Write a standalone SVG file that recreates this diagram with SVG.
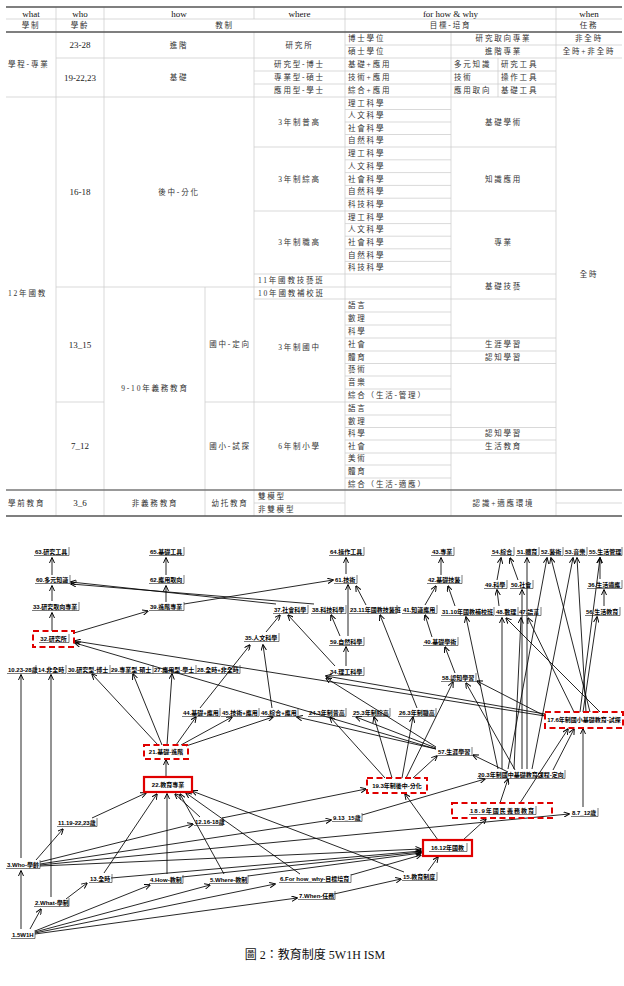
<svg xmlns="http://www.w3.org/2000/svg" width="624" height="986" viewBox="0 0 624 986">
<style>
.t{font-family:'Liberation Serif','Noto Sans CJK TC',serif;font-size:7.5px;fill:#333;dominant-baseline:central;letter-spacing:1.8px}
.h{font-family:'Liberation Serif',serif;font-size:9px;fill:#111;dominant-baseline:central;text-anchor:middle}
.n{font-family:'Liberation Serif','Noto Sans CJK TC',serif;font-size:9px;fill:#222;dominant-baseline:central;text-anchor:middle}
.m{text-anchor:middle}
.g{fill:none;stroke:#cfcfcf;stroke-width:0.8}
.k{fill:none;stroke:#555;stroke-width:1.6}
.km{fill:none;stroke:#777;stroke-width:1.6}
.nt{font-family:'Liberation Sans','Noto Sans CJK TC',sans-serif;font-size:6px;font-weight:bold;fill:#000;dominant-baseline:central}
.nb{fill:none;stroke:#222;stroke-width:0.6}
.rs{fill:none;stroke:#e00000;stroke-width:2.2}
.rd{fill:none;stroke:#e00000;stroke-width:2;stroke-dasharray:6 3.5}
#connectors line{stroke:#000;stroke-width:0.85;marker-end:url(#ah)}
.cap{font-family:'Liberation Serif','Noto Sans CJK TC',serif;font-size:12px;fill:#111;text-anchor:middle}
</style>
<defs>
<marker id="ah" viewBox="0 0 10 10" refX="9" refY="5" markerWidth="6" markerHeight="6" orient="auto" markerUnits="userSpaceOnUse">
<path d="M0,0.5 L10,5 L0,9.5" fill="none" stroke="#000" stroke-width="1.6"/>
</marker>
</defs>
<rect width="624" height="986" fill="#fff"/>

<g id="table">
<path class="g" d="M56,7V19M104,7V19M254,7V19M345,7V19M556,7V19M56,19V32M104,19V32M345,19V32M556,19V32M56,32V516M104,32V516M254,32V516M345,32V516M451,32V516M556,32V516M498,58V97M205,287V516"/>
<path class="g" d="M6,19H622M345,45H622M56,58H622M254,71H556M254,84H556M6,97H556M345,109.5H451M345,122H451M345,134.5H451M254,147H556M345,159.8H451M345,172.6H451M345,185.4H451M345,198.2H451M254,211H556M345,223.6H451M345,236.2H451M345,248.8H451M345,261.4H451M254,274H556M56,287H451M254,299H556M345,312H451M345,325H451M345,338H556M345,351H556M345,363.5H556M345,376H451M345,389H451M56,402H104M205,402H556M345,415H451M345,427.5H556M345,440H556M345,453H556M345,465H451M345,478H451M254,503H345M556,503H622"/>
<path class="k" d="M6,7H622M6,32H622M6,516H622"/>
<path class="km" d="M6,490H622"/>
<text class="h" x="31" y="13.5">what</text>
<text class="h" x="80" y="13.5">who</text>
<text class="h" x="179" y="13.5">how</text>
<text class="h" x="299.5" y="13.5">where</text>
<text class="h" x="450.5" y="13.5">for how &amp; why</text>
<text class="h" x="589" y="13.5">when</text>
<text class="t m" x="31" y="25.5">學制</text>
<text class="t m" x="80" y="25.5">學齡</text>
<text class="t m" x="224.5" y="25.5">教制</text>
<text class="t m" x="450.5" y="25.5">目標-培育</text>
<text class="t m" x="589" y="25.5">任務</text>
<text class="t" x="8" y="64.5">學程-專業</text>
<text class="n" x="80" y="45">23-28</text>
<text class="t m" x="179" y="45">進階</text>
<text class="t m" x="299.5" y="45">研究所</text>
<text class="t" x="348" y="38.5">博士學位</text>
<text class="t" x="348" y="51.5">碩士學位</text>
<text class="t m" x="503.5" y="38.5">研究取向專業</text>
<text class="t m" x="503.5" y="51.5">進階專業</text>
<text class="t m" x="589" y="38.5">非全時</text>
<text class="t m" x="589" y="51.5">全時+非全時</text>
<text class="n" x="80" y="77.5">19-22,23</text>
<text class="t m" x="179" y="77.5">基礎</text>
<text class="t m" x="299.5" y="64.5">研究型-博士</text>
<text class="t m" x="299.5" y="77.5">專業型-碩士</text>
<text class="t m" x="299.5" y="90.5">應用型-學士</text>
<text class="t" x="348" y="64.5">基礎+應用</text>
<text class="t" x="348" y="77.5">技術+應用</text>
<text class="t" x="348" y="90.5">綜合+應用</text>
<text class="t" x="454" y="64.5">多元知識</text>
<text class="t" x="454" y="77.5">技術</text>
<text class="t" x="454" y="90.5">應用取向</text>
<text class="t" x="501" y="64.5">研究工具</text>
<text class="t" x="501" y="77.5">操作工具</text>
<text class="t" x="501" y="90.5">基礎工具</text>
<text class="t" x="8" y="293.5">12年國教</text>
<text class="n" x="80" y="192">16-18</text>
<text class="t m" x="179" y="192">後中-分化</text>
<text class="t m" x="299.5" y="122">3年制普高</text>
<text class="t m" x="299.5" y="179">3年制綜高</text>
<text class="t m" x="299.5" y="242.5">3年制職高</text>
<text class="t" x="348" y="103.3">理工科學</text>
<text class="t" x="348" y="115.8">人文科學</text>
<text class="t" x="348" y="128.3">社會科學</text>
<text class="t" x="348" y="140.8">自然科學</text>
<text class="t" x="348" y="153.4">理工科學</text>
<text class="t" x="348" y="166.2">人文科學</text>
<text class="t" x="348" y="179">社會科學</text>
<text class="t" x="348" y="191.8">自然科學</text>
<text class="t" x="348" y="204.6">科技科學</text>
<text class="t" x="348" y="217.3">理工科學</text>
<text class="t" x="348" y="229.9">人文科學</text>
<text class="t" x="348" y="242.5">社會科學</text>
<text class="t" x="348" y="255.1">自然科學</text>
<text class="t" x="348" y="267.7">科技科學</text>
<text class="t m" x="503.5" y="122">基礎學術</text>
<text class="t m" x="503.5" y="179">知識應用</text>
<text class="t m" x="503.5" y="242.5">專業</text>
<text class="t m" x="503.5" y="286.5">基礎技藝</text>
<text class="t m" x="589" y="274">全時</text>
<text class="t" x="258" y="280.5">11年國教技藝班</text>
<text class="t" x="258" y="293">10年國教補校班</text>
<text class="n" x="80" y="344.5">13_15</text>
<text class="t m" x="155" y="388">9-10年義務教育</text>
<text class="t m" x="230" y="344.5">國中-定向</text>
<text class="t m" x="299.5" y="347">3年制國中</text>
<text class="t" x="348" y="305.4">語言</text>
<text class="t" x="348" y="318.3">數理</text>
<text class="t" x="348" y="331.2">科學</text>
<text class="t" x="348" y="344.1">社會</text>
<text class="t" x="348" y="357">體育</text>
<text class="t" x="348" y="369.8">藝術</text>
<text class="t" x="348" y="382.7">音樂</text>
<text class="t" x="348" y="395.6">綜合（生活-管理）</text>
<text class="t m" x="503.5" y="344.5">生涯學習</text>
<text class="t m" x="503.5" y="357.3">認知學習</text>
<text class="n" x="80" y="446">7_12</text>
<text class="t m" x="230" y="446">國小-試探</text>
<text class="t m" x="299.5" y="446">6年制小學</text>
<text class="t" x="348" y="408.3">語言</text>
<text class="t" x="348" y="421">數理</text>
<text class="t" x="348" y="433.6">科學</text>
<text class="t" x="348" y="446.2">社會</text>
<text class="t" x="348" y="458.8">美術</text>
<text class="t" x="348" y="471.4">體育</text>
<text class="t" x="348" y="484">綜合（生活-適應）</text>
<text class="t m" x="503.5" y="433.6">認知學習</text>
<text class="t m" x="503.5" y="446.2">生活教育</text>
<text class="t" x="8" y="503">學前教育</text>
<text class="n" x="80" y="503">3_6</text>
<text class="t m" x="155" y="503">非義務教育</text>
<text class="t m" x="230" y="503">幼托教育</text>
<text class="t" x="258" y="496.5">雙模型</text>
<text class="t" x="258" y="509.5">非雙模型</text>
<text class="t m" x="503.5" y="503">認識+適應環境</text>
</g>

<g id="connectors">
<line x1="52" y1="575" x2="52" y2="558"/>
<line x1="52" y1="601" x2="52" y2="586"/>
<line x1="52" y1="631" x2="52" y2="613"/>
<line x1="74" y1="633" x2="148" y2="611"/>
<line x1="166" y1="575" x2="166" y2="558"/>
<line x1="166" y1="602" x2="166" y2="586"/>
<line x1="276" y1="604" x2="71" y2="582"/>
<line x1="314" y1="604" x2="71" y2="584"/>
<line x1="184" y1="604" x2="333" y2="580"/>
<line x1="346" y1="574" x2="346" y2="558"/>
<line x1="348" y1="636" x2="348" y2="585"/>
<line x1="340" y1="636" x2="331" y2="615"/>
<line x1="366" y1="605" x2="356" y2="586"/>
<line x1="346" y1="666" x2="346" y2="647"/>
<line x1="266" y1="632" x2="280" y2="615"/>
<line x1="335" y1="666" x2="288" y2="615"/>
<line x1="425" y1="605" x2="436" y2="586"/>
<line x1="455" y1="606" x2="448" y2="586"/>
<line x1="441" y1="575" x2="441" y2="558"/>
<line x1="432" y1="637" x2="425" y2="615"/>
<line x1="498" y1="769" x2="466" y2="617"/>
<line x1="455" y1="673" x2="445" y2="647"/>
<line x1="417" y1="708" x2="380" y2="615"/>
<line x1="514" y1="769" x2="521" y2="618"/>
<line x1="574" y1="712" x2="528" y2="618"/>
<line x1="502" y1="769" x2="502" y2="618"/>
<line x1="600" y1="712" x2="506" y2="618"/>
<line x1="522" y1="769" x2="522" y2="590"/>
<line x1="527" y1="769" x2="527" y2="558"/>
<line x1="508" y1="769" x2="547" y2="558"/>
<line x1="590" y1="712" x2="551" y2="558"/>
<line x1="532" y1="769" x2="573" y2="558"/>
<line x1="586" y1="712" x2="577" y2="558"/>
<line x1="580" y1="712" x2="600" y2="558"/>
<line x1="583" y1="712" x2="597" y2="617"/>
<line x1="604" y1="606" x2="604" y2="590"/>
<line x1="600" y1="579" x2="600" y2="558"/>
<line x1="499" y1="606" x2="497" y2="590"/>
<line x1="497" y1="580" x2="501" y2="558"/>
<line x1="518" y1="580" x2="510" y2="558"/>
<line x1="545" y1="716" x2="477" y2="681"/>
<line x1="508" y1="772" x2="473" y2="755"/>
<line x1="515" y1="770" x2="466" y2="683"/>
<line x1="553" y1="770" x2="574" y2="729"/>
<line x1="583" y1="807" x2="583" y2="729"/>
<line x1="500" y1="803" x2="508" y2="779"/>
<line x1="520" y1="803" x2="568" y2="729"/>
<line x1="362" y1="815" x2="485" y2="779"/>
<line x1="438" y1="840" x2="405" y2="794"/>
<line x1="463" y1="840" x2="486" y2="819"/>
<line x1="428" y1="871" x2="438" y2="857"/>
<line x1="334" y1="894" x2="401" y2="879"/>
<line x1="222" y1="818" x2="366" y2="789"/>
<line x1="385" y1="778" x2="330" y2="717"/>
<line x1="392" y1="778" x2="374" y2="717"/>
<line x1="402" y1="778" x2="413" y2="717"/>
<line x1="413" y1="778" x2="437" y2="756"/>
<line x1="406" y1="778" x2="453" y2="682"/>
<line x1="166" y1="777" x2="166" y2="760"/>
<line x1="158" y1="745" x2="92" y2="674"/>
<line x1="162" y1="745" x2="133" y2="674"/>
<line x1="167" y1="745" x2="172" y2="674"/>
<line x1="176" y1="745" x2="196" y2="717"/>
<line x1="181" y1="745" x2="232" y2="717"/>
<line x1="186" y1="746" x2="273" y2="717"/>
<line x1="436" y1="749" x2="75" y2="643"/>
<line x1="545" y1="716" x2="75" y2="641"/>
<line x1="436" y1="747" x2="326" y2="678"/>
<line x1="545" y1="714" x2="326" y2="676"/>
<line x1="436" y1="749" x2="297" y2="717"/>
<line x1="436" y1="748" x2="356" y2="717"/>
<line x1="200" y1="708" x2="250" y2="645"/>
<line x1="272" y1="708" x2="263" y2="645"/>
<line x1="21" y1="858" x2="21" y2="675"/>
<line x1="51" y1="897" x2="51" y2="675"/>
<line x1="92" y1="818" x2="146" y2="793"/>
<line x1="104" y1="873" x2="157" y2="794"/>
<line x1="167" y1="874" x2="167" y2="794"/>
<line x1="200" y1="817" x2="175" y2="794"/>
<line x1="224" y1="874" x2="180" y2="794"/>
<line x1="300" y1="874" x2="186" y2="793"/>
<line x1="404" y1="872" x2="192" y2="791"/>
<line x1="36" y1="860" x2="63" y2="829"/>
<line x1="40" y1="862" x2="193" y2="824"/>
<line x1="40" y1="864" x2="331" y2="820"/>
<line x1="40" y1="865" x2="569" y2="814"/>
<line x1="40" y1="866" x2="421" y2="849"/>
<line x1="111" y1="878" x2="421" y2="851"/>
<line x1="182" y1="877" x2="421" y2="852"/>
<line x1="248" y1="876" x2="421" y2="853"/>
<line x1="351" y1="875" x2="421" y2="855"/>
<line x1="66" y1="899" x2="87" y2="883"/>
<line x1="30" y1="929" x2="41" y2="909"/>
<line x1="21" y1="929" x2="21" y2="871"/>
<line x1="35" y1="931" x2="150" y2="885"/>
<line x1="35" y1="932" x2="210" y2="885"/>
<line x1="35" y1="933" x2="275" y2="884"/>
<line x1="35" y1="934" x2="297" y2="898"/>
</g>

<g id="n63"><text class="nt" x="35" y="552">63.研究工具</text><path class="nb" d="M34,555.5H69V547"/></g>
<g id="n65"><text class="nt" x="150" y="552">65.基礎工具</text><path class="nb" d="M149,555.5H184V547"/></g>
<g id="n64"><text class="nt" x="330" y="552">64.操作工具</text><path class="nb" d="M329,555.5H364V547"/></g>
<g id="n43"><text class="nt" x="432" y="552">43.專業</text><path class="nb" d="M431,555.5H454V547"/></g>
<g id="n54"><text class="nt" x="492" y="552">54.綜合</text><path class="nb" d="M491,555.5H514V547"/></g>
<g id="n51"><text class="nt" x="517" y="552">51.體育</text><path class="nb" d="M516,555.5H539V547"/></g>
<g id="n52"><text class="nt" x="541" y="552">52.藝術</text><path class="nb" d="M540,555.5H563V547"/></g>
<g id="n53"><text class="nt" x="565" y="552">53.音樂</text><path class="nb" d="M564,555.5H587V547"/></g>
<g id="n55"><text class="nt" x="589" y="552">55.生活管理</text><path class="nb" d="M588,555.5H622V547"/></g>
<g id="n60"><text class="nt" x="36" y="580">60.多元知識</text><path class="nb" d="M35,583.5H70V575"/></g>
<g id="n62"><text class="nt" x="150" y="580">62.應用取向</text><path class="nb" d="M149,583.5H184V575"/></g>
<g id="n61"><text class="nt" x="335" y="580">61.技術</text><path class="nb" d="M334,583.5H357V575"/></g>
<g id="n42"><text class="nt" x="428" y="580">42.基礎技藝</text><path class="nb" d="M427,583.5H462V575"/></g>
<g id="n49"><text class="nt" x="485" y="585">49.科學</text><path class="nb" d="M484,588.5H507V580"/></g>
<g id="n50"><text class="nt" x="511" y="585">50.社會</text><path class="nb" d="M510,588.5H533V580"/></g>
<g id="n36"><text class="nt" x="588" y="585">36.生活適應</text><path class="nb" d="M587,588.5H622V580"/></g>
<g id="n33"><text class="nt" x="33" y="607">33.研究取向專業</text><path class="nb" d="M32,610.5H79V602"/></g>
<g id="n39"><text class="nt" x="150" y="607">39.進階專業</text><path class="nb" d="M149,610.5H184V602"/></g>
<g id="n37"><text class="nt" x="274" y="610">37.社會科學</text><path class="nb" d="M273,613.5H308V605"/></g>
<g id="n38"><text class="nt" x="312" y="610">38.科技科學</text><path class="nb" d="M311,613.5H346V605"/></g>
<g id="n23"><text class="nt" x="350" y="610">23.11年國教技藝班</text><path class="nb" d="M349,613.5H397V605"/></g>
<g id="n41"><text class="nt" x="403" y="610">41.知識應用</text><path class="nb" d="M402,613.5H437V605"/></g>
<g id="n31"><text class="nt" x="442" y="612">31.10年國教補校班</text><path class="nb" d="M441,615.5H494V607"/></g>
<g id="n48"><text class="nt" x="496" y="612">48.數理</text><path class="nb" d="M495,615.5H518V607"/></g>
<g id="n47"><text class="nt" x="519" y="612">47.語言</text><path class="nb" d="M518,615.5H541V607"/></g>
<g id="n56"><text class="nt" x="586" y="612">56.生活教育</text><path class="nb" d="M585,615.5H620V607"/></g>
<g id="n32"><rect class="rd" x="33" y="631" width="41" height="16"/><text class="nt m" x="53.5" y="639">32.研究所</text><path class="nb" d="M39,642.5H69V634"/></g>
<g id="n35"><text class="nt" x="245" y="638">35.人文科學</text><path class="nb" d="M244,641.5H279V633"/></g>
<g id="n59"><text class="nt" x="330" y="642">59.自然科學</text><path class="nb" d="M329,645.5H364V637"/></g>
<g id="n40"><text class="nt" x="424" y="642">40.基礎學術</text><path class="nb" d="M423,645.5H458V637"/></g>
<g id="n34"><text class="nt" x="330" y="672">34.理工科學</text><path class="nb" d="M329,675.5H364V667"/></g>
<g id="n58"><text class="nt" x="442" y="678">58.認知學習</text><path class="nb" d="M441,681.5H476V673"/></g>
<g id="n10"><text class="nt" x="8" y="670">10.23-28歲</text><path class="nb" d="M7,673.5H36V665"/></g>
<g id="n14"><text class="nt" x="38" y="670">14.非全時</text><path class="nb" d="M37,673.5H66V665"/></g>
<g id="n30"><text class="nt" x="68" y="670">30.研究型-博士</text><path class="nb" d="M67,673.5H110V665"/></g>
<g id="n29"><text class="nt" x="111" y="670">29.專業型-碩士</text><path class="nb" d="M110,673.5H153V665"/></g>
<g id="n27"><text class="nt" x="154" y="670">27.應用型-學士</text><path class="nb" d="M153,673.5H196V665"/></g>
<g id="n28"><text class="nt" x="197" y="670">28.全時+非全時</text><path class="nb" d="M196,673.5H240V665"/></g>
<g id="n44"><text class="nt" x="183" y="713">44.基礎+應用</text><path class="nb" d="M182,716.5H220V708"/></g>
<g id="n45"><text class="nt" x="222" y="713">45.技術+應用</text><path class="nb" d="M221,716.5H259V708"/></g>
<g id="n46"><text class="nt" x="261" y="713">46.綜合+應用</text><path class="nb" d="M260,716.5H298V708"/></g>
<g id="n24"><text class="nt" x="309" y="713">24.3年制普高</text><path class="nb" d="M308,716.5H346V708"/></g>
<g id="n25"><text class="nt" x="353" y="713">25.3年制綜高</text><path class="nb" d="M352,716.5H390V708"/></g>
<g id="n26"><text class="nt" x="399" y="713">26.3年制職高</text><path class="nb" d="M398,716.5H436V708"/></g>
<g id="n17"><rect class="rd" x="545" y="712" width="78" height="16"/><text class="nt m" x="584" y="720">17.6年制國小基礎教育-試探</text></g>
<g id="n21"><rect class="rd" x="144" y="745" width="44" height="14"/><text class="nt m" x="166" y="752">21.基礎-進階</text></g>
<g id="n57"><text class="nt" x="438" y="752">57.生涯學習</text><path class="nb" d="M437,755.5H472V747"/></g>
<g id="n20"><text class="nt" x="478" y="775">20.3年制國中基礎教育課程-定向</text><path class="nb" d="M477,778.5H565V770"/></g>
<g id="n22"><rect class="rs" x="144" y="777" width="48" height="15"/><text class="nt m" x="168" y="784.5">22.教育專業</text></g>
<g id="n19"><rect class="rd" x="367" y="778" width="60" height="15"/><text class="nt m" x="397" y="785.5">19.3年制後中-分化</text></g>
<g id="n18"><rect class="rd" x="452" y="803" width="100" height="15"/><text class="nt m" x="502" y="810.5" textLength="64" lengthAdjust="spacing">18.9年國民義務教育</text><path class="nb" d="M469,814.5H536V806"/></g>
<g id="n8"><text class="nt" x="572" y="813">8.7_12歲</text><path class="nb" d="M571,816.5H598V808"/></g>
<g id="n9"><text class="nt" x="333" y="818">9.13_15歲</text><path class="nb" d="M332,821.5H362V813"/></g>
<g id="n11"><text class="nt" x="58" y="823">11.19-22,23歲</text><path class="nb" d="M57,826.5H97V818"/></g>
<g id="n12"><text class="nt" x="195" y="822">12.16-18歲</text><path class="nb" d="M194,825.5H223V817"/></g>
<g id="n16"><rect class="rs" x="423" y="840" width="49" height="16"/><text class="nt m" x="447.5" y="848">16.12年國教</text><path class="nb" d="M429,851.5H467V843"/></g>
<g id="n3"><text class="nt" x="7" y="865">3.Who-學齡</text><path class="nb" d="M6,868.5H40V860"/></g>
<g id="n13"><text class="nt" x="90" y="879">13.全時</text><path class="nb" d="M89,882.5H112V874"/></g>
<g id="n4"><text class="nt" x="150" y="880">4.How-教制</text><path class="nb" d="M149,883.5H183V875"/></g>
<g id="n5"><text class="nt" x="210" y="880">5.Where-教制</text><path class="nb" d="M209,883.5H248V875"/></g>
<g id="n15"><text class="nt" x="403" y="877">15.教育制度</text><path class="nb" d="M402,880.5H437V872"/></g>
<g id="n6"><text class="nt" x="280" y="879">6.For how_why-目標培育</text><path class="nb" d="M279,882.5H351V874"/></g>
<g id="n7"><text class="nt" x="299" y="896">7.When-任務</text><path class="nb" d="M298,899.5H335V891"/></g>
<g id="n2"><text class="nt" x="35" y="903">2.What-學制</text><path class="nb" d="M34,906.5H69V898"/></g>
<g id="n1"><text class="nt" x="12" y="935">1.5W1H</text><path class="nb" d="M11,938.5H35V930"/></g>

<text id="caption" class="cap" x="315" y="959">圖 2：教育制度 5W1H ISM</text>
</svg>
